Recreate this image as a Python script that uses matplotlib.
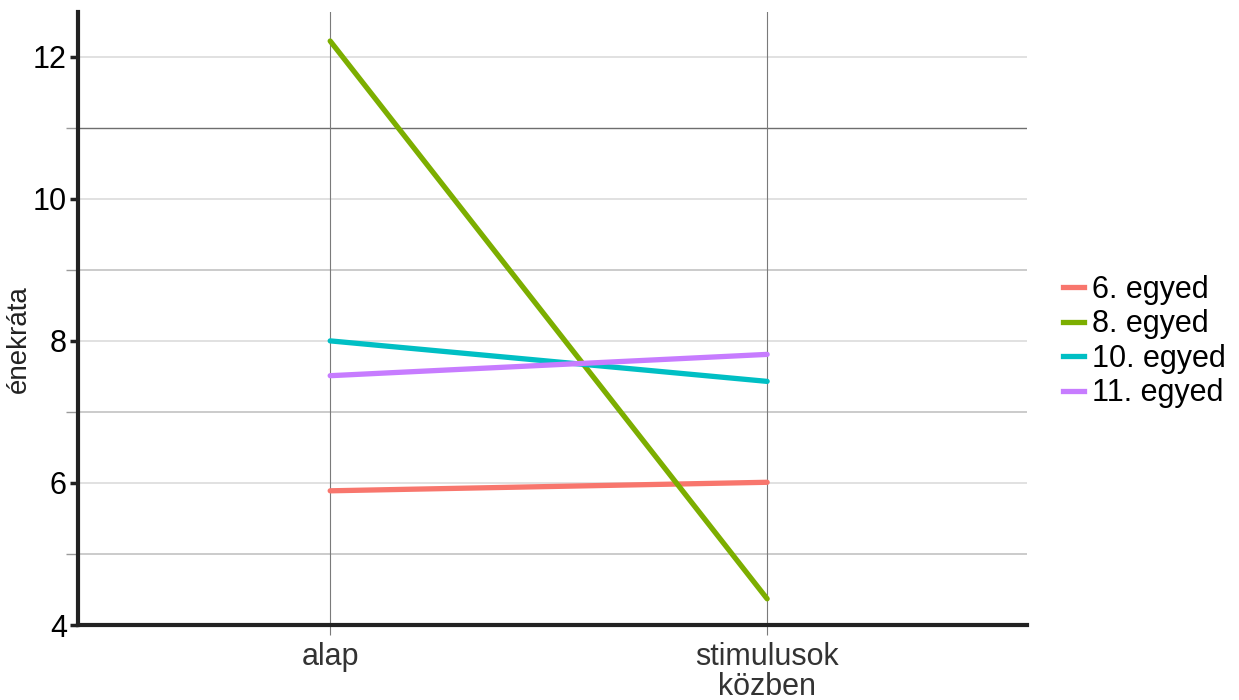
import matplotlib.pyplot as plt
from matplotlib.lines import Line2D

plt.rcParams['font.family'] = ['Liberation Sans', 'DejaVu Sans']

conditions = ["alap", "stimulusok\nközben"]
individuals = ["6. egyed", "8. egyed", "10. egyed", "11. egyed"]
values = {
    "6. egyed": [5.89, 6.01],
    "8. egyed": [12.22, 4.37],
    "10. egyed": [8.0, 7.43],
    "11. egyed": [7.51, 7.81],
}
colors = ["#F8766D", "#7CAE00", "#00BFC4", "#C77CFF"]

fig = plt.figure(figsize=(12.39, 7), dpi=100)
ax = fig.add_axes([0.063, 0.107, 0.766, 0.876])

x = list(range(len(conditions)))

# grid lines
for y in [6, 8, 10, 12]:
    ax.axhline(y, color="#d9d9d9", lw=1.1, zorder=0)
for y in [5, 7, 9]:
    ax.axhline(y, color="#bdbdbd", lw=1.1, zorder=0)
ax.axhline(11, color="#6e6e6e", lw=1.0, zorder=0)
for xi in x:
    ax.axvline(xi, color="#7a7a7a", lw=0.8, zorder=0)

for name, c in zip(individuals, colors):
    ax.plot(x, values[name], color=c, lw=3.8, solid_capstyle="round", zorder=3)

ax.set_xlim(-0.577, 1.595)
ax.set_ylim(4, 12.63)
ax.set_xticks(x)
ax.set_xticklabels(conditions, fontsize=22, color="#333333", linespacing=1.0)
ax.set_yticks([4, 6, 8, 10, 12])
ax.set_yticklabels(["4", "6", "8", "10", "12"], fontsize=22, color="black")
ax.set_yticks([5, 7, 9, 11], minor=True)
ax.tick_params(axis="y", which="major", length=6, width=2.5, color="#222222", pad=2)
ax.tick_params(axis="y", which="minor", length=9, width=1.0, color="#9a9a9a")
ax.tick_params(axis="x", length=7, width=0.8, color="#7a7a7a", pad=5)

for s in ["top", "right"]:
    ax.spines[s].set_visible(False)
for s in ["left", "bottom"]:
    ax.spines[s].set_linewidth(3)
    ax.spines[s].set_color("#222222")

fig.text(0.015, 0.515, "énekráta", fontsize=20, color="#222222",
         rotation=90, ha="center", va="center")

handles = [Line2D([0], [0], color=c, lw=3.8) for c in colors]
fig.legend(handles, individuals, loc="center left", bbox_to_anchor=(0.848, 0.512),
           frameon=False, fontsize=22, handlelength=0.7, handletextpad=0.25,
           labelspacing=0.15, borderaxespad=0)

fig.savefig("out.png", dpi=100)
